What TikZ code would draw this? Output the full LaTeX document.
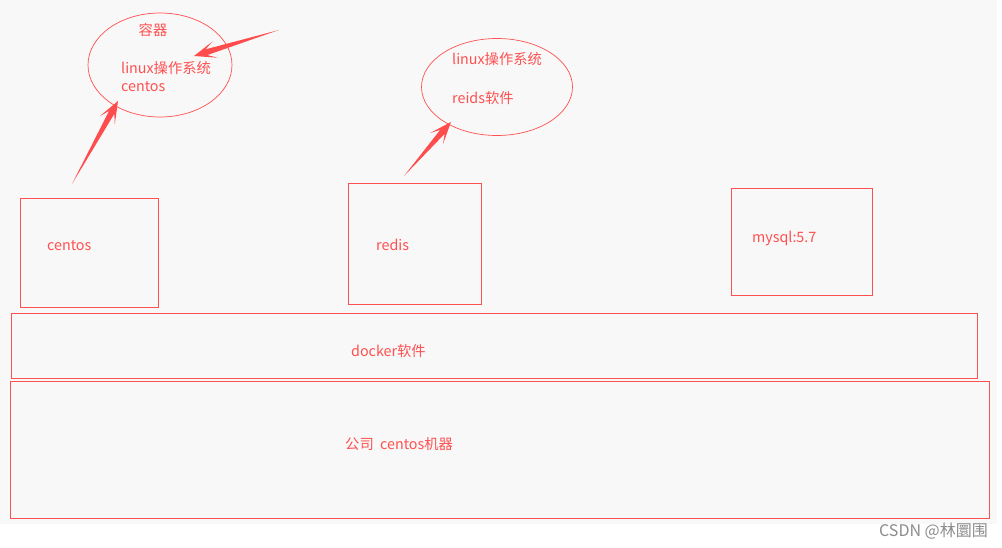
\documentclass[tikz,border=0pt]{standalone}
\usepackage{fontspec}
\setmainfont{Noto Sans CJK SC}
\usetikzlibrary{shapes.geometric,calc}
\definecolor{lred}{HTML}{FF5050}
\definecolor{bgray}{HTML}{F8F8F8}
\tikzset{
  lbl/.style={text=lred,font=\fontsize{14.3}{16}\selectfont,inner sep=0pt,anchor=west},
  boxs/.style={draw=lred,line width=0.8pt},
  ell/.style={draw=lred,line width=0.7pt,ellipse,inner sep=0pt},
  fat/.style={fill=lred!95!red,draw=none}
}
\newcommand{\fatarrow}[2]{%
  \fill[fat] (#1) -- ($($(#2)!13pt!(#1)$)!3pt!90:(#2)$)
     -- ($($(#2)!22pt!(#1)$)!8.5pt!90:(#2)$) -- (#2)
     -- ($($(#2)!22pt!(#1)$)!8.5pt!-90:(#2)$)
     -- ($($(#2)!13pt!(#1)$)!3pt!-90:(#2)$) -- cycle;}
\begin{document}
\begin{tikzpicture}[x=1pt,y=-1pt]
\useasboundingbox (0,0) rectangle (1002,548);
\fill[white] (0,0) rectangle (1002,548);
\fill[bgray] (0,0) rectangle (997,524);
% ellipses
\node[ell,minimum width=144pt,minimum height=104pt] (e1) at (160,65) {};
\node[ell,minimum width=151pt,minimum height=97pt] (e2) at (497,87) {};
\node[lbl,anchor=center] (t1) at (153,30) {容器};
\node[lbl] (t2) at (121,68) {linux操作系统};
\node[lbl] (t3) at (121,87) {centos};
\node[lbl] (t4) at (452,59) {linux操作系统};
\node[lbl] (t5) at (452,98) {reids软件};
% boxes
\draw[boxs] (20,198) rectangle (158,307);
\node[lbl] (bc) at (47,246) {centos};
\draw[boxs] (348,183) rectangle (481,304);
\node[lbl] (br) at (376,245) {redis};
\draw[boxs] (731,188) rectangle (872,295);
\node[lbl] (bm) at (752,238) {mysql:5.7};
\draw[boxs] (11,313) rectangle (977,378);
\node[lbl] (bd) at (351,351) {docker软件};
\draw[boxs] (10,381) rectangle (989,518);
\node[lbl] (bk) at (345,444) {公司\ \ centos机器};
% arrows
\coordinate (a1t) at (72,184);
\coordinate (a1h) at (118,101);
\coordinate (a2t) at (279,30);
\coordinate (a2h) at (194,56);
\coordinate (a3t) at (404,176);
\coordinate (a3h) at (451,122);
\fatarrow{a1t}{a1h}
\fatarrow{a2t}{a2h}
\fatarrow{a3t}{a3h}
% watermark
\node[inner sep=0pt,anchor=east,text=black!45,font=\fontsize{16}{18}\selectfont] (wm) at (988,531) {CSDN @林圜围};
\end{tikzpicture}
\end{document}
